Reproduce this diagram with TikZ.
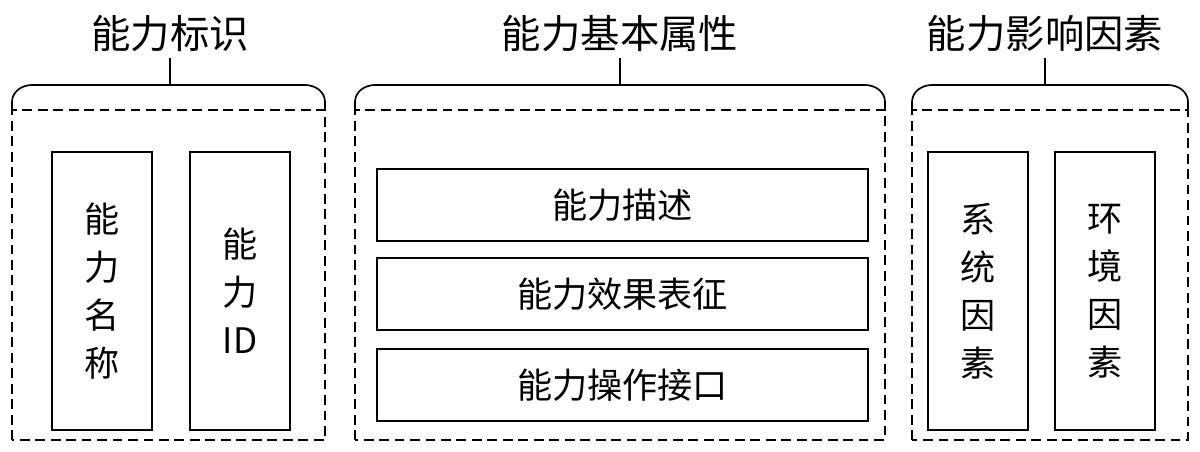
\documentclass[tikz,border=0pt]{standalone}
\usepackage{fontspec}
\newfontfamily\cjk{Noto Sans CJK SC}
\begin{document}
\begin{tikzpicture}[x=0.025cm,y=0.025cm,line width=1.2pt,
  title/.style={font=\cjk\fontsize{28}{30}\selectfont},
  item/.style={draw,font=\cjk\fontsize{25}{34}\selectfont,align=center,inner sep=0pt},
  tall/.style={item,minimum width=2.5cm,minimum height=6.95cm},
  wide/.style={item,minimum width=12.275cm,minimum height=1.8cm},
  group/.style={draw,dash pattern=on 7pt off 4pt,line width=1.1pt}]
\useasboundingbox (0,0) rectangle (1200,452);
% titles
\node[title] (tid) at (170,418) {能力标识};
\node[title] (tattr) at (620,418) {能力基本属性};
\node[title] (tfac) at (1045,418) {能力影响因素};
% group tabs
\draw (12,342) -- (12,350) to[out=90,in=180] (32,367) -- (305,367) to[out=0,in=90] (325,350) -- (325,342);
\draw (355,342) -- (355,350) to[out=90,in=180] (375,367) -- (865,367) to[out=0,in=90] (885,350) -- (885,342);
\draw (912,342) -- (912,350) to[out=90,in=180] (932,367) -- (1168,367) to[out=0,in=90] (1188,350) -- (1188,342);
\coordinate (bid) at (170,367); \coordinate (battr) at (620,367); \coordinate (bfac) at (1045,367);
\draw (tid) -- (bid); \draw (tattr) -- (battr); \draw (tfac) -- (bfac);
% dashed groups
\draw[group] (12,12) rectangle (325,342);
\draw[group] (355,12) rectangle (885,342);
\draw[group] (912,12) rectangle (1188,342);
% items
\node[tall] (name) at (102,161) {能\\力\\名\\称};
\node[tall] (capid) at (240,161) {能\\力\\ID};
\node[wide] (desc) at (622.5,247) {能力描述};
\node[wide] (eff) at (622.5,158) {能力效果表征};
\node[wide] (iface) at (622.5,67) {能力操作接口};
\node[tall] (sys) at (978,161) {系\\统\\因\\素};
\node[tall] (env) at (1105,161) {环\\境\\因\\素};
\end{tikzpicture}
\end{document}
